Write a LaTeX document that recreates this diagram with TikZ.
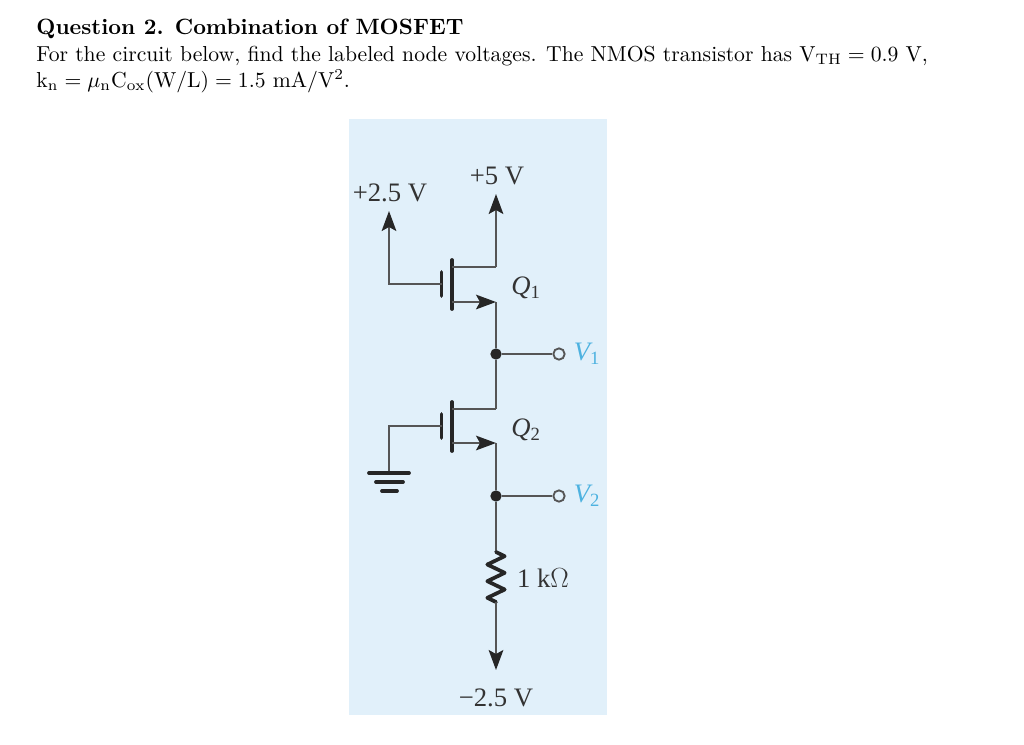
\documentclass[tikz,border=0pt]{standalone}
\usepackage{amsmath}
\usepackage{fontspec}
\usetikzlibrary{arrows.meta,decorations.pathmorphing}
\newfontfamily\figfont{Liberation Serif}
\definecolor{panelblue}{HTML}{E1F0FA}
\definecolor{wiregray}{HTML}{555555}
\definecolor{voltblue}{HTML}{4DB2E0}
\tikzset{>/.tip={Stealth[length=15pt,width=11pt,inset=3pt,color=black!85]},
  question/.style={anchor=base west, inner sep=0pt, scale=1.625},
  figlabel/.style={inner sep=0pt, text=black!80, font=\figfont\fontsize{20}{24}\selectfont},
  wire/.style={draw=wiregray, line width=1.4pt},
  plate/.style={draw=black!85, line width=2.8pt, line cap=round},
  dotnode/.style={circle, fill=black!85, inner sep=0pt, minimum size=8.5pt},
  opennode/.style={circle, draw=wiregray, fill=panelblue, line width=1.4pt, inner sep=0pt, minimum size=8.5pt}}

\begin{document}
\begin{tikzpicture}[x=0.75pt,y=-0.75pt]
\useasboundingbox (0,0) rectangle (1024,744);
\node[question, scale=1.022] (title) at (36,34) {\textbf{Question 2. Combination of MOSFET}};
\node[question] (line2) at (36,61) {For the circuit below, find the labeled node voltages. The NMOS transistor has $\mathrm{V_{TH}}=0.9$ V,};
\node[question] (line3) at (36,87.5) {$\mathrm{k_n}=\mu_{\mathrm{n}}\mathrm{C_{ox}(W/L)}=1.5$ mA/V$^2$.};
\node[fill=panelblue, inner sep=0pt, minimum width=193.5pt, minimum height=447pt, anchor=north west] (panel) at (349,119) {};
\node[figlabel] (l25) at (390,193) {+2.5 V};
\node[figlabel] (l5)  at (497,176) {+5 V};
\node[figlabel] (lm25) at (496,698) {−2.5 V};
\node[figlabel] (lr)  at (543,578) {1 k$\Omega$};
\coordinate (p25) at (389,211);
\coordinate (p5) at (496,194);
\coordinate (pm25) at (496,670);
\coordinate (rtop) at (496,552);
\coordinate (rbot) at (496,602);
\coordinate (gnd) at (389,473);
\foreach \n/\dy in {1/0,2/142}
{
  \coordinate (g\n) at (441.5,284+\dy);
  \coordinate (ct\n) at (452,260+\dy);
  \coordinate (cb\n) at (452,309+\dy);
  \coordinate (d\n) at (496,267+\dy);
  \coordinate (s\n) at (496,302+\dy-\n+1);
  \node[dotnode] (j\n) at (496,354+\dy) {};
  \node[opennode] (o\n) at (559,354+\dy) {};
  \node[figlabel] (q\n) at (526,288+\dy) {\itshape Q\textsubscript{\upshape\n}};
  \node[figlabel, text=voltblue] (v\n) at (587,354+\dy) {\itshape V\textsubscript{\upshape\n}};
  \draw[plate] (441.5,272+\dy) -- (441.5,296+\dy);
  \draw[plate] (ct\n) -- (cb\n);
  \draw[wire] (452,267+\dy) -- (d\n);
  \draw[wire,->] (452,302+\dy-\n+1) -- (s\n);
  \draw[wire] (j\n) -- (o\n);
}
\draw[wire,->] (g1) -| (p25);
\draw[wire] (g2) -| (gnd);
\draw[wire,->] (d1) -- (p5);
\draw[wire] (s1) -- (j1);
\draw[wire] (j1) -- (d2);
\draw[wire] (s2) -- (j2);
\draw[wire] (j2) -- (rtop);
\draw[plate, line join=round, decorate, decoration={zigzag, segment length=12.5pt, amplitude=6.5pt}] (rtop) -- (rbot);
\draw[wire,->] (rbot) -- (pm25);
\draw[plate] (369,473) -- (409,473);
\draw[plate] (376,482) -- (403,482);
\draw[plate] (382,491) -- (397,491);
\end{tikzpicture}
\end{document}
